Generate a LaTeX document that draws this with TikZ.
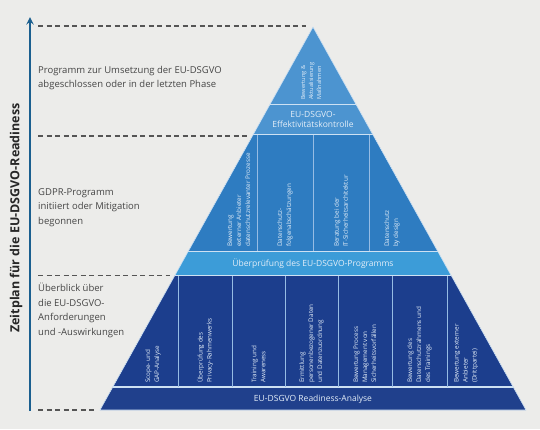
\documentclass[tikz,border=0pt]{standalone}
\usepackage{fontspec}
\setmainfont{Open Sans}
\begin{document}
\begin{tikzpicture}[x=1pt,y=-1pt,
  spalte/.style={rotate=90, anchor=west, align=left, text=weiss, inner sep=0pt, font=\fontsize{6.3}{9}\selectfont},
  bandtext/.style={align=center, text=weiss, inner sep=0pt, font=\fontsize{8.5}{10}\selectfont},
  phase/.style={anchor=north west, align=left, text=schrift, inner sep=0pt, font=\fontsize{9.5}{14.5}\selectfont}]
\definecolor{hintergrund}{RGB}{236,236,234}
\definecolor{spitze}{RGB}{76,148,208}
\definecolor{mitte}{RGB}{46,124,193}
\definecolor{band}{RGB}{60,156,216}
\definecolor{dunkel}{RGB}{28,62,141}
\definecolor{fuss}{RGB}{32,64,140}
\definecolor{trenn}{RGB}{205,225,243}
\definecolor{linie}{RGB}{150,188,228}
\definecolor{weiss}{RGB}{228,238,248}
\definecolor{strich}{RGB}{85,85,85}
\definecolor{pfeil}{RGB}{27,95,143}
\definecolor{schrift}{RGB}{70,70,70}
\fill[hintergrund] (0,0) rectangle (540,429);
\useasboundingbox (0,0) rectangle (540,429);
\begin{scope}
\clip (313,27) -- (526,410) -- (100,410) -- cycle;
\fill[spitze] (100,20) rectangle (526,134);
\fill[mitte] (100,134) rectangle (526,251);
\fill[band] (100,251) rectangle (526,275);
\fill[dunkel] (100,275) rectangle (526,387);
\fill[fuss] (100,387) rectangle (526,411);
\foreach \y in {104.5,134.5,251.5,275.5,387} \draw[trenn, line width=1.5pt] (100,\y) -- (526,\y);
\foreach \x in {257,313,369} \draw[linie, line width=1pt] (\x,135) -- (\x,251);
\foreach \x in {178,232,285,338,392,447} \draw[linie, line width=1pt] (\x,276) -- (\x,387);
\end{scope}
\draw[trenn, line width=0.6pt] (313,27) -- (526,410) -- (100,410) -- cycle;
\foreach \y/\e in {26/306, 136/248, 275.5/170, 410/95} \draw[strich, line width=1.2pt, dash pattern=on 5pt off 3.5pt] (38,\y) -- (\e,\y);
\coordinate (start) at (30,411);
\coordinate (ziel) at (30,17);
\draw[pfeil, line width=2.3pt, ->, >=stealth] (start) -- (ziel);
\node[rotate=90, text=black!85, font=\fontsize{12.5}{14}\selectfont\bfseries] (titel) at (16,218) {Zeitplan für die EU-DSGVO-Readiness};
\node[phase] (phase3) at (38,66) {Programm zur Umsetzung der EU-DSGVO\\abgeschlossen oder in der letzten Phase};
\node[phase] (phase2) at (38,188) {GDPR-Programm\\initiiert oder Mitigation\\begonnen};
\node[phase] (phase1) at (38,283) {Überblick über\\die EU-DSGVO-\\Anforderungen\\und -Auswirkungen};
\node[spalte, font=\fontsize{5.6}{8}\selectfont] (s1) at (311,100) {Bewertung \&\\Aktualisierung\\Maßnahmen};
\node[bandtext] (effektiv) at (313,119.5) {EU-DSGVO-\\Effektivitätskontrolle};
\node[spalte] (m1) at (239,247) {Bewertung\\externer Anbieter\\datenschutzrelevanter Prozesse};
\node[spalte] (m2) at (285,247) {Datenschutz-\\folgenabschätzungen};
\node[spalte] (m3) at (341,247) {Beratung bei der\\IT-Sicherheitsarchitektur};
\node[spalte] (m4) at (392,247) {Datenschutz\\by design};
\node[bandtext] (pruefung) at (313,263.5) {Überprüfung des EU-DSGVO-Programms};
\node[spalte] (u1) at (153,383) {Scope- und\\GAP-Analyse};
\node[spalte] (u2) at (205,383) {Überprüfung des\\Privacy-Rahmenwerks};
\node[spalte] (u3) at (258.5,383) {Training und\\Awareness};
\node[spalte] (u4) at (311.5,383) {Ermittlung\\personenbezogener Daten\\und Datenzuordnung};
\node[spalte] (u5) at (365,383) {Bewertung Process\\Management von\\Sicherheitsvorfällen};
\node[spalte] (u6) at (419.5,383) {Bewertung des\\Datenschutzrahmens und\\des Trainings};
\node[spalte] (u7) at (466,383) {Bewertung externer\\Anbieter\\(Drittpartei)};
\node[bandtext] (analyse) at (313,399) {EU-DSGVO Readiness-Analyse};
\end{tikzpicture}
\end{document}
